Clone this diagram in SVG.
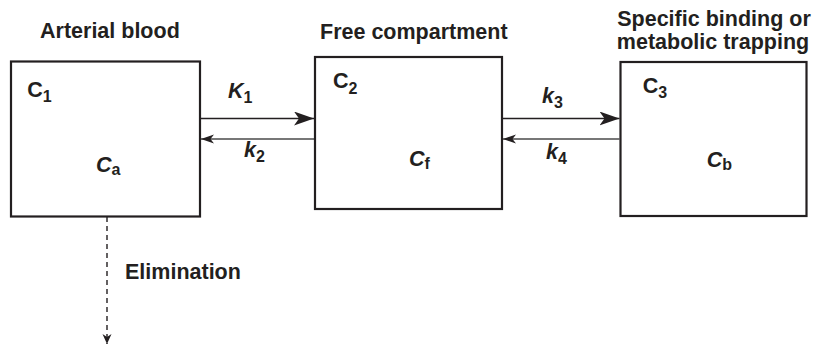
<svg xmlns="http://www.w3.org/2000/svg" width="819" height="345" viewBox="0 0 819 345">
  <style>
    .box { fill: #ffffff; stroke: #231f20; stroke-width: 2.2; }
    .t { font-family: "Liberation Sans", Arial, sans-serif; font-weight: bold; font-size: 21.5px; fill: #231f20; }
    .i { font-style: italic; }
    .sub { font-size: 16px; font-style: normal; }
    .ln { stroke: #231f20; stroke-width: 1.4; fill: none; }
    .ln2 { stroke: #4a4a4a; stroke-width: 1.4; fill: none; }
    .dash { stroke: #231f20; stroke-width: 1.4; fill: none; stroke-dasharray: 5 4; }
  </style>
  <defs>
    <marker id="big" markerUnits="userSpaceOnUse" markerWidth="24" markerHeight="18" refX="20" refY="7" orient="auto">
      <path d="M0,0 L20,7 L0,14 L5,7 Z" fill="#231f20"/>
    </marker>
    <marker id="small" markerUnits="userSpaceOnUse" markerWidth="16" markerHeight="12" refX="13" refY="4.5" orient="auto">
      <path d="M0,0 L13,4.5 L0,9 L3.5,4.5 Z" fill="#231f20"/>
    </marker>
    <marker id="down" markerUnits="userSpaceOnUse" markerWidth="14" markerHeight="12" refX="10" refY="4.5" orient="auto">
      <path d="M0,0 L10,4.5 L0,9 L3,4.5 Z" fill="#231f20"/>
    </marker>
  </defs>

  <g id="connectors">
    <line class="ln" x1="201" y1="118.5" x2="314" y2="118.5" marker-end="url(#big)"/>
    <line class="ln2" x1="314" y1="139" x2="201" y2="139" marker-end="url(#small)"/>
    <line class="ln" x1="503" y1="118.5" x2="619.5" y2="118.5" marker-end="url(#big)"/>
    <line class="ln2" x1="619.5" y1="139" x2="503" y2="139" marker-end="url(#small)"/>
    <line class="dash" x1="107" y1="217" x2="107" y2="344" marker-end="url(#down)"/>
    <text class="t" x="228" y="97.6"><tspan class="i">K</tspan><tspan class="sub" dy="5">1</tspan></text>
    <text class="t" x="244" y="156.7"><tspan class="i">k</tspan><tspan class="sub" dy="5">2</tspan></text>
    <text class="t" x="542" y="103"><tspan class="i">k</tspan><tspan class="sub" dy="5">3</tspan></text>
    <text class="t" x="546" y="159"><tspan class="i">k</tspan><tspan class="sub" dy="5">4</tspan></text>
    <text class="t" x="125" y="279">Elimination</text>
  </g>

  <g id="arterial">
    <text class="t" x="40" y="38">Arterial blood</text>
    <rect class="box" x="11" y="61.5" width="189" height="155"/>
    <text class="t" x="27.3" y="96.7">C<tspan class="sub" dy="5.5">1</tspan></text>
    <text class="t" x="96" y="171.7"><tspan class="i">C</tspan><tspan class="sub" dy="3.5">a</tspan></text>
  </g>

  <g id="free">
    <text class="t" x="320" y="39">Free compartment</text>
    <rect class="box" x="315" y="57" width="187" height="152"/>
    <text class="t" x="333" y="88">C<tspan class="sub" dy="5.5">2</tspan></text>
    <text class="t" x="409" y="165.7"><tspan class="i">C</tspan><tspan class="sub" dy="3.5">f</tspan></text>
  </g>

  <g id="bound">
    <text class="t" x="714" y="26" text-anchor="middle">Specific binding or</text>
    <text class="t" x="713" y="49.3" text-anchor="middle">metabolic trapping</text>
    <rect class="box" x="620.5" y="62" width="186" height="154"/>
    <text class="t" x="642.7" y="92.5">C<tspan class="sub" dy="5.5">3</tspan></text>
    <text class="t" x="706.7" y="166.7"><tspan class="i">C</tspan><tspan class="sub" dy="3.5">b</tspan></text>
  </g>
</svg>
